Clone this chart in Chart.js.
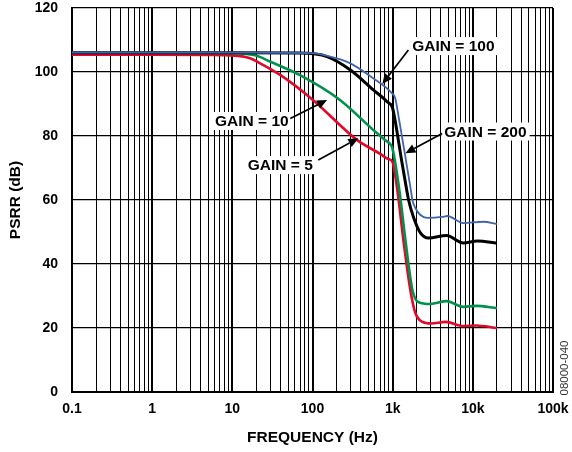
<!DOCTYPE html>
<html>
<head>
<meta charset="utf-8">
<script src="https://cdn.jsdelivr.net/npm/chart.js@4/dist/chart.umd.min.js"></script>
<style>
  html, body { margin: 0; padding: 0; background: #fff; }
  #c { display: block; }
</style>
</head>
<body>
<canvas id="c" width="572" height="452"></canvas>
<script>
// ---------- data (frequency in Hz, PSRR in dB) ----------
const gain5Freq  = [0.1, 1, 5, 10, 16.7, 20.5, 40, 102, 362, 700, 880, 990, 1145, 1360, 1660, 1920, 2350, 3000, 4600, 7600, 11000, 20000];
const gain5Db    = [105.4, 105.4, 105.35, 105.2, 104.3, 103.2, 99, 91.2, 78.7, 74.4, 72.8, 72, 63, 47.5, 31.9, 24.7, 21.9, 21.4, 21.9, 20.6, 20.8, 20];

const gain10Freq = [0.1, 1, 10, 15, 19.3, 30, 70, 222, 608, 810, 936, 990, 1213, 1442, 1763, 2094, 2960, 4700, 7600, 11000, 20000];
const gain10Db   = [106, 106, 105.9, 105.6, 105.2, 103.2, 99, 91.2, 81.3, 78.7, 77.4, 76.3, 63, 47.5, 31.9, 28.1, 27.5, 28.4, 26.6, 26.9, 26.2];

const gain100Freq = [0.1, 1, 10, 70, 152, 297, 574, 765, 851, 991, 1070, 1290, 1500, 1580, 1815, 2220, 2790, 4700, 7600, 11400, 20000];
const gain100Db   = [106, 106, 106, 105.9, 104.8, 100.6, 94.4, 91.8, 90.7, 89, 85, 72.5, 63, 60, 54.7, 49.7, 48.1, 48.9, 46.6, 47.2, 46.5];

const gain200Freq = [0.1, 1, 10, 100, 138, 297, 590, 884, 985, 1070, 1205, 1462, 1689, 1763, 1920, 2220, 2700, 4150, 4800, 7600, 13500, 20000];
const gain200Db   = [106.1, 106.1, 106.1, 105.9, 105.3, 102.7, 97.8, 94.5, 93.3, 92, 85, 72.5, 63, 60, 57.5, 55.3, 54.4, 54.7, 55, 52.8, 53.2, 52.5];

const seriesNames  = ['GAIN = 200', 'GAIN = 100', 'GAIN = 10', 'GAIN = 5'];

// axis ticks
const xDecades     = [0.1, 1, 10, 100, 1000, 10000, 100000];
const xTickLabels  = ['0.1', '1', '10', '100', '1k', '10k', '100k'];
const yTickValues  = [0, 20, 40, 60, 80, 100, 120];

// callout labels (anchored in data units: Hz, dB)
const calloutText     = ['GAIN = 100', 'GAIN = 200', 'GAIN = 10', 'GAIN = 5'];
const calloutTextFreq = [5730, 14370, 17.5, 39.6];
const calloutTextDb   = [108.1, 81.4, 84.7, 70.9];
const arrowFromFreq   = [1571, 4140, 52.8, 118];
const arrowFromDb     = [106.9, 80.8, 85.5, 72.5];
const arrowToFreq     = [743, 1442, 152, 373];
const arrowToDb       = [96.25, 74.6, 91.25, 79.3];

const figureId = '08000-040';

// ---------- helpers ----------
function zip(xs, ys) { return xs.map((x, i) => ({ x: x, y: ys[i] })); }
const FONT = "'Liberation Sans', Arial, Helvetica, sans-serif";

const calloutPlugin = {
  id: 'callouts',
  afterDatasetsDraw(chart) {
    const ctx = chart.ctx;
    const xs = chart.scales.x, ys = chart.scales.y;
    ctx.save();
    ctx.font = 'bold 15.5px ' + FONT;
    ctx.textAlign = 'center';
    ctx.textBaseline = 'middle';
    for (let i = 0; i < calloutText.length; i++) {
      const tx = xs.getPixelForValue(calloutTextFreq[i]);
      const ty = ys.getPixelForValue(calloutTextDb[i]);
      const w = ctx.measureText(calloutText[i]).width;
      ctx.fillStyle = '#fff';
      ctx.fillRect(tx - w / 2 - 3, ty - 9, w + 6, 18);
      const x1 = xs.getPixelForValue(arrowFromFreq[i]);
      const y1 = ys.getPixelForValue(arrowFromDb[i]);
      const x2 = xs.getPixelForValue(arrowToFreq[i]);
      const y2 = ys.getPixelForValue(arrowToDb[i]);
      const ang = Math.atan2(y2 - y1, x2 - x1);
      const hl = 10, hw = 4.5;
      const bx = x2 - hl * Math.cos(ang), by = y2 - hl * Math.sin(ang);
      ctx.strokeStyle = '#000';
      ctx.lineWidth = 1.7;
      ctx.beginPath();
      ctx.moveTo(x1, y1);
      ctx.lineTo(bx, by);
      ctx.stroke();
      ctx.fillStyle = '#000';
      ctx.beginPath();
      ctx.moveTo(x2, y2);
      ctx.lineTo(bx + hw * Math.sin(ang), by - hw * Math.cos(ang));
      ctx.lineTo(bx - hw * Math.sin(ang), by + hw * Math.cos(ang));
      ctx.closePath();
      ctx.fill();
      ctx.fillText(calloutText[i], tx, ty + 1);
    }
    ctx.restore();
  },
  afterDraw(chart) {
    const ctx = chart.ctx;
    const a = chart.chartArea;
    ctx.save();
    ctx.translate(a.right + 12, a.bottom - 24);
    ctx.rotate(-Math.PI / 2);
    ctx.font = "11.5px 'Liberation Sans Narrow', 'Liberation Sans', Arial, sans-serif";
    ctx.fillStyle = '#333';
    ctx.textAlign = 'center';
    ctx.textBaseline = 'middle';
    ctx.fillText(figureId, 0, 0);
    ctx.restore();
  }
};

function isDecade(v) {
  const l = Math.log10(v);
  return Math.abs(l - Math.round(l)) < 1e-6;
}

const colors = ['#3f66ad', '#000000', '#00924a', '#e3082a'];
const widths = [1.8, 3, 2.6, 2.6];
const series = [zip(gain200Freq, gain200Db), zip(gain100Freq, gain100Db), zip(gain10Freq, gain10Db), zip(gain5Freq, gain5Db)];

new Chart(document.getElementById('c'), {
  type: 'line',
  data: {
    datasets: series.map((d, i) => ({
      label: seriesNames[i],
      data: d,
      borderColor: colors[i],
      backgroundColor: colors[i],
      borderWidth: widths[i],
      pointRadius: 0,
      fill: false,
      cubicInterpolationMode: 'monotone'
    }))
  },
  options: {
    responsive: false,
    devicePixelRatio: 1,
    animation: false,
    layout: { padding: { top: 8, right: 19, left: 0, bottom: 0 } },
    plugins: { legend: { display: false }, tooltip: { enabled: false } },
    scales: {
      x: {
        type: 'logarithmic',
        min: 0.1,
        max: 100000,
        afterBuildTicks(scale) {
          const t = [];
          for (let d = 0; d < xDecades.length - 1; d++) {
            for (let m = 1; m <= 9; m++) t.push({ value: Number((m * xDecades[d]).toPrecision(6)) });
          }
          t.push({ value: xDecades[xDecades.length - 1] });
          scale.ticks = t;
        },
        afterFit(scale) {
          scale.height = 60;
          scale.paddingLeft = 0; scale.paddingRight = 0;
          scale.paddingTop = 0; scale.paddingBottom = 0;
        },
        ticks: {
          autoSkip: false,
          maxRotation: 0,
          minRotation: 0,
          padding: 9,
          color: '#000',
          font: { family: FONT, size: 14, weight: 'bold' },
          callback(v) {
            for (let i = 0; i < xDecades.length; i++) {
              if (Math.abs(Math.log10(v) - Math.log10(xDecades[i])) < 1e-6) return xTickLabels[i];
            }
            return '';
          }
        },
        grid: {
          color: '#000',
          drawTicks: false,
          lineWidth(ctx) { return ctx.tick && isDecade(ctx.tick.value) ? 2 : 1; }
        },
        border: { display: true, color: '#000', width: 2 },
        title: {
          display: true,
          text: 'FREQUENCY (Hz)',
          color: '#000',
          font: { family: FONT, size: 15.5, weight: 'bold' },
          padding: { top: 0, bottom: 5 }
        }
      },
      y: {
        min: 0,
        max: 120,
        afterBuildTicks(scale) { scale.ticks = yTickValues.map(v => ({ value: v })); },
        afterFit(scale) {
          scale.width = 72;
          scale.paddingLeft = 0; scale.paddingRight = 0;
          scale.paddingTop = 0; scale.paddingBottom = 0;
        },
        ticks: {
          padding: 14,
          color: '#000',
          font: { family: FONT, size: 14, weight: 'bold' }
        },
        grid: { color: '#000', drawTicks: false, lineWidth: 1.2 },
        border: { display: true, color: '#000', width: 2 },
        title: {
          display: true,
          text: 'PSRR (dB)',
          color: '#000',
          font: { family: FONT, size: 15.5, weight: 'bold' },
          padding: { top: 6, bottom: 0 }
        }
      }
    }
  },
  plugins: [calloutPlugin]
});
</script>
</body>
</html>
